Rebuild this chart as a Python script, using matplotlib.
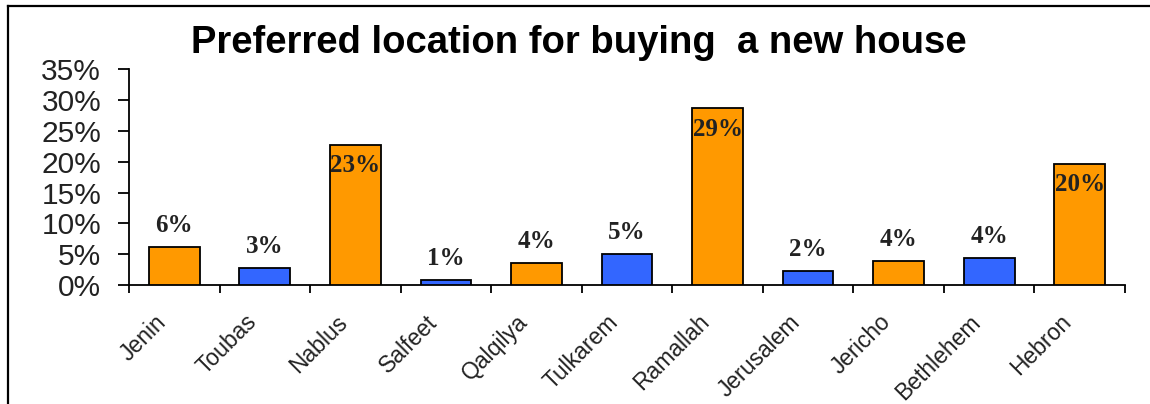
import matplotlib
matplotlib.use("Agg")
import matplotlib.pyplot as plt
from matplotlib.lines import Line2D
from matplotlib.transforms import ScaledTranslation
import numpy as np

categories = ["Jenin", "Toubas", "Nablus", "Salfeet", "Qalqilya", "Tulkarem",
              "Ramallah", "Jerusalem", "Jericho", "Bethlehem", "Hebron"]
values = [6.2, 2.8, 22.8, 0.8, 3.6, 5.05, 28.7, 2.3, 3.9, 4.45, 19.7]
value_labels = ["6%", "3%", "23%", "1%", "4%", "5%", "29%", "2%", "4%", "4%", "20%"]
bar_colors = ["#FF9900", "#3366FF", "#FF9900", "#3366FF", "#FF9900", "#3366FF",
              "#FF9900", "#3366FF", "#FF9900", "#3366FF", "#FF9900"]
yticks = [0, 5, 10, 15, 20, 25, 30, 35]
title = "Preferred location for buying  a new house"

W, H = 1150, 404
fig = plt.figure(figsize=(W / 100, H / 100), dpi=100)
fig.patch.set_facecolor("white")

ax_left, ax_right = 129 / W, 1125 / W
ax_bottom, ax_top = 1 - 285 / H, 1 - 69.4 / H
ax = fig.add_axes([ax_left, ax_bottom, ax_right - ax_left, ax_top - ax_bottom])

x = np.arange(len(categories))
bars = ax.bar(x, values, width=0.56, color=bar_colors, edgecolor="black", linewidth=1.3, zorder=3)

ax.set_xlim(-0.5, len(categories) - 0.5)
ax.set_ylim(0, 35)
ax.set_yticks(yticks)
ax.set_yticklabels([f"{v}%" for v in yticks], fontfamily="Liberation Sans", fontsize=21.5, color="#222222")
ax.tick_params(axis="y", direction="out", length=8, width=1.3, pad=12)

# boundary ticks (major, no labels), category labels on minor ticks
ax.set_xticks(np.arange(-0.5, len(categories), 1.0))
ax.set_xticklabels([])
ax.tick_params(axis="x", which="major", direction="out", length=6, width=1.3)
ax.set_xticks(x, minor=True)
ax.set_xticklabels(categories, minor=True, rotation=45, ha="right", rotation_mode="anchor",
                   fontfamily="Liberation Sans", fontsize=16.5, color="#222222")
ax.tick_params(axis="x", which="minor", length=0, pad=14)
shift = ScaledTranslation(-20 / 100, -6 / 100, fig.dpi_scale_trans)
for lbl in ax.get_xticklabels(minor=True):
    lbl.set_transform(lbl.get_transform() + shift)

for s in ["top", "right"]:
    ax.spines[s].set_visible(False)
for s in ["left", "bottom"]:
    ax.spines[s].set_linewidth(1.3)

for xi, v, lab in zip(x, values, value_labels):
    if v > 15:
        ax.annotate(lab, (xi, v), xytext=(0, -7), textcoords="offset points",
                    ha="center", va="top", fontfamily="Liberation Serif",
                    fontweight="bold", fontsize=18, color="#222222", zorder=4)
    else:
        ax.annotate(lab, (xi, v), xytext=(0, 7), textcoords="offset points",
                    ha="center", va="bottom", fontfamily="Liberation Serif",
                    fontweight="bold", fontsize=18, color="#222222", zorder=4)

fig.text(579 / W, 1 - 53 / H, title, ha="center", va="baseline",
         fontfamily="Liberation Sans", fontweight="bold", fontsize=27.5, color="black")

# figure border (left and top)
fig.add_artist(Line2D([7.5 / W, 7.5 / W], [0, 1 - 6 / H], transform=fig.transFigure, color="black", lw=1.6))
fig.add_artist(Line2D([7.5 / W, 1], [1 - 6 / H, 1 - 6 / H], transform=fig.transFigure, color="black", lw=1.6))

fig.savefig("out.png", dpi=100)
